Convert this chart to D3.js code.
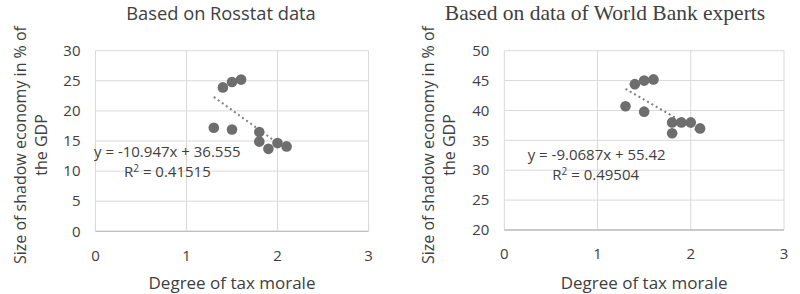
<!DOCTYPE html>
<html><head><meta charset="utf-8">
<script src="https://cdn.jsdelivr.net/npm/d3@7"></script>
<style>
body{margin:0;background:#fff;}
svg{display:block;}
text{font-family:"Open Sans",sans-serif;fill:#404040;}
text.serif{font-family:"Liberation Serif","Times New Roman",serif;}
</style></head>
<body>
<svg id="c" width="800" height="294"></svg>
<script>
// Data
const degreeTaxMorale = [1.3, 1.4, 1.5, 1.5, 1.6, 1.8, 1.8, 1.9, 2.0, 2.1];
const rosstatShadow   = [17.2, 23.9, 24.8, 16.9, 25.2, 16.5, 14.9, 13.7, 14.65, 14.1];
const worldBankShadow = [40.7, 44.4, 45.0, 39.8, 45.2, 38.0, 36.2, 38.0, 38.0, 37.0];
const xTicks = [0, 1, 2, 3];
const rosstatYTicks = [0, 5, 10, 15, 20, 25, 30];
const worldBankYTicks = [20, 25, 30, 35, 40, 45, 50];
const rosstatFit = {slope: -10.947, intercept: 36.555, r2: "0.41515", eq: "y = -10.947x + 36.555"};
const worldBankFit = {slope: -9.0687, intercept: 55.42, r2: "0.49504", eq: "y = -9.0687x + 55.42"};
const titles = ["Based on Rosstat data", "Based on data of World Bank experts"];
const xTitle = "Degree of tax morale";
const yTitleLines = ["Size of shadow economy in % of", "the GDP"];

const svg = d3.select("#c");

function panel(cfg){
  const g = svg.append("g");
  const x = d3.scaleLinear().domain([0,3]).range([cfg.left, cfg.right]);
  const y = d3.scaleLinear().domain(cfg.yDomain).range([cfg.bottom, cfg.top]);
  // grid
  g.selectAll(".hg").data(cfg.yTicks).enter().append("line")
    .attr("x1", x(0)).attr("x2", x(3)).attr("y1", d=>y(d)).attr("y2", d=>y(d))
    .attr("stroke", "#d9d9d9").attr("stroke-width", 1);
  g.selectAll(".vg").data(xTicks).enter().append("line")
    .attr("x1", d=>x(d)).attr("x2", d=>x(d)).attr("y1", y(cfg.yDomain[0])).attr("y2", y(cfg.yDomain[1]))
    .attr("stroke", "#d9d9d9").attr("stroke-width", 1);
  // bottom axis line
  g.append("line").attr("x1", x(0)).attr("x2", x(3))
    .attr("y1", y(cfg.yDomain[0])).attr("y2", y(cfg.yDomain[0]))
    .attr("stroke", "#bfbfbf").attr("stroke-width", 1.3);
  // y tick labels
  g.selectAll(".yl").data(cfg.yTicks).enter().append("text")
    .attr("x", cfg.left - 15).attr("y", d=>y(d)).attr("dy", "0.35em")
    .attr("text-anchor", "end").style("font-size", "15px").text(d=>d);
  // x tick labels
  g.selectAll(".xl").data(xTicks).enter().append("text")
    .attr("x", d=>x(d)).attr("y", cfg.bottom + 24).attr("dy", "0.35em")
    .attr("text-anchor", "middle").style("font-size", "15px").text(d=>d);
  // trendline
  const xs = d3.extent(degreeTaxMorale);
  g.append("line")
    .attr("x1", x(xs[0])).attr("y1", y(cfg.fit.slope*xs[0]+cfg.fit.intercept))
    .attr("x2", x(xs[1])).attr("y2", y(cfg.fit.slope*xs[1]+cfg.fit.intercept))
    .attr("stroke", "#7f7f7f").attr("stroke-width", 2).attr("stroke-dasharray", "2,3");
  // points
  g.selectAll(".pt").data(degreeTaxMorale).enter().append("circle")
    .attr("cx", d=>x(d)).attr("cy", (d,i)=>y(cfg.values[i])).attr("r", 5.3)
    .attr("fill", "#6e6e6e");
  // equation
  g.append("text").attr("x", cfg.eqX).attr("y", cfg.eqY).attr("dy","0.35em")
    .style("font-size", "15px").text(cfg.fit.eq);
  const r = g.append("text").attr("x", cfg.r2X).attr("y", cfg.eqY + cfg.r2Gap).attr("dy","0.35em")
    .style("font-size", "15px");
  r.append("tspan").text("R");
  r.append("tspan").attr("dy", "-5").style("font-size","10px").text("2");
  r.append("tspan").attr("dy", "5").text(" = " + cfg.fit.r2);
  // title
  g.append("text").attr("class", cfg.titleClass).attr("x", cfg.titleX).attr("y", cfg.titleY).attr("dy","0.35em")
    .attr("text-anchor","middle").style("font-size", cfg.titleSize)
    .text(cfg.title);
  // x title
  g.append("text").attr("x", (cfg.left+cfg.right)/2).attr("y", 283).attr("dy","0.35em")
    .attr("text-anchor","middle").style("font-size","17px").text(xTitle);
  // y title
  const yt = g.append("text").attr("transform", `translate(${cfg.yTitleX},${cfg.yTitleY}) rotate(-90)`)
    .attr("text-anchor","middle").style("font-size","16px");
  yt.append("tspan").attr("x",0).attr("dy","0.35em").text(yTitleLines[0]);
  yt.append("tspan").attr("x",0).attr("dy","21px").text(yTitleLines[1]);
}

panel({left:95.5, right:368.5, top:50.7, bottom:231.3, yDomain:[0,30], yTicks:rosstatYTicks,
  values: rosstatShadow, fit: rosstatFit, eqX: 94, eqY: 152, r2X: 124, r2Gap: 20,
  title: titles[0], titleX: 221, titleY: 14, titleClass: "sans", titleSize: "18.3px",
  yTitleX: 20, yTitleY: 145});
panel({left:504.3, right:784, top:50.7, bottom:230, yDomain:[20,50], yTicks:worldBankYTicks,
  values: worldBankShadow, fit: worldBankFit, eqX: 527.7, eqY: 155, r2X: 552.3, r2Gap: 20,
  title: titles[1], titleX: 605, titleY: 12.5, titleClass: "serif", titleSize: "21.5px",
  yTitleX: 428, yTitleY: 145});
</script>
</body></html>
